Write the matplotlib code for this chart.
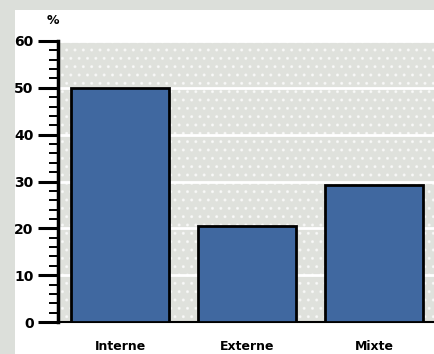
import matplotlib
matplotlib.use("Agg")
import matplotlib.pyplot as plt
from matplotlib.patches import Rectangle
from matplotlib.ticker import MultipleLocator

# Données
categories = ["Interne", "Externe", "Mixte"]
valeurs = [50, 20.4, 29.3]
y_ticks = [0, 10, 20, 30, 40, 50, 60]

bar_color = "#4068a0"
bg_plot = "#dfe1dc"
frame_color = "#dcdfda"

fig = plt.figure(figsize=(4.34, 3.54), dpi=100, facecolor=frame_color)
# panneau blanc (bordure grise à gauche et en haut)
fig.patches.append(Rectangle((15 / 434, 0), 1, (354 - 10) / 354,
                             transform=fig.transFigure, facecolor="white",
                             edgecolor="none", zorder=-5))

ax = fig.add_axes([58 / 434, 32 / 354, 1 - 58 / 434, (322 - 41) / 354])
ax.set_zorder(2)
ax.set_facecolor(bg_plot)
# motif pointillé du fond
ax.add_patch(Rectangle((0, 0), 1, 1, transform=ax.transAxes, facecolor="none",
                       edgecolor="white", hatch="..", linewidth=0, alpha=0.6, zorder=0))

x = range(len(categories))
ax.bar(x, valeurs, width=0.77, color=bar_color, edgecolor="black",
       linewidth=2, zorder=3)

ax.set_ylim(0, 60)
ax.set_xlim(-0.49, 2.47)
ax.set_yticks(y_ticks)
ax.set_yticklabels([str(t) for t in y_ticks], fontsize=10, fontweight="bold")
ax.yaxis.set_minor_locator(MultipleLocator(2))
ax.grid(axis="y", color="white", linewidth=2, zorder=1)
ax.set_axisbelow(True)

ax.set_xticks(list(x))
ax.set_xticklabels(categories, fontsize=9, fontweight="bold")
ax.tick_params(axis="x", length=0, pad=13)
ax.tick_params(axis="y", which="major", length=14.5, width=2.2, pad=3)
ax.tick_params(axis="y", which="minor", length=6.5, width=1.4)

for s in ["top", "right"]:
    ax.spines[s].set_visible(False)
ax.spines["left"].set_linewidth(2.5)
ax.spines["bottom"].set_linewidth(1.5)

fig.text(53 / 434, 1 - 20 / 354, "%", fontsize=9, fontweight="bold",
         ha="center", va="center", zorder=3)

fig.savefig("out.png", dpi=100, facecolor=frame_color)
